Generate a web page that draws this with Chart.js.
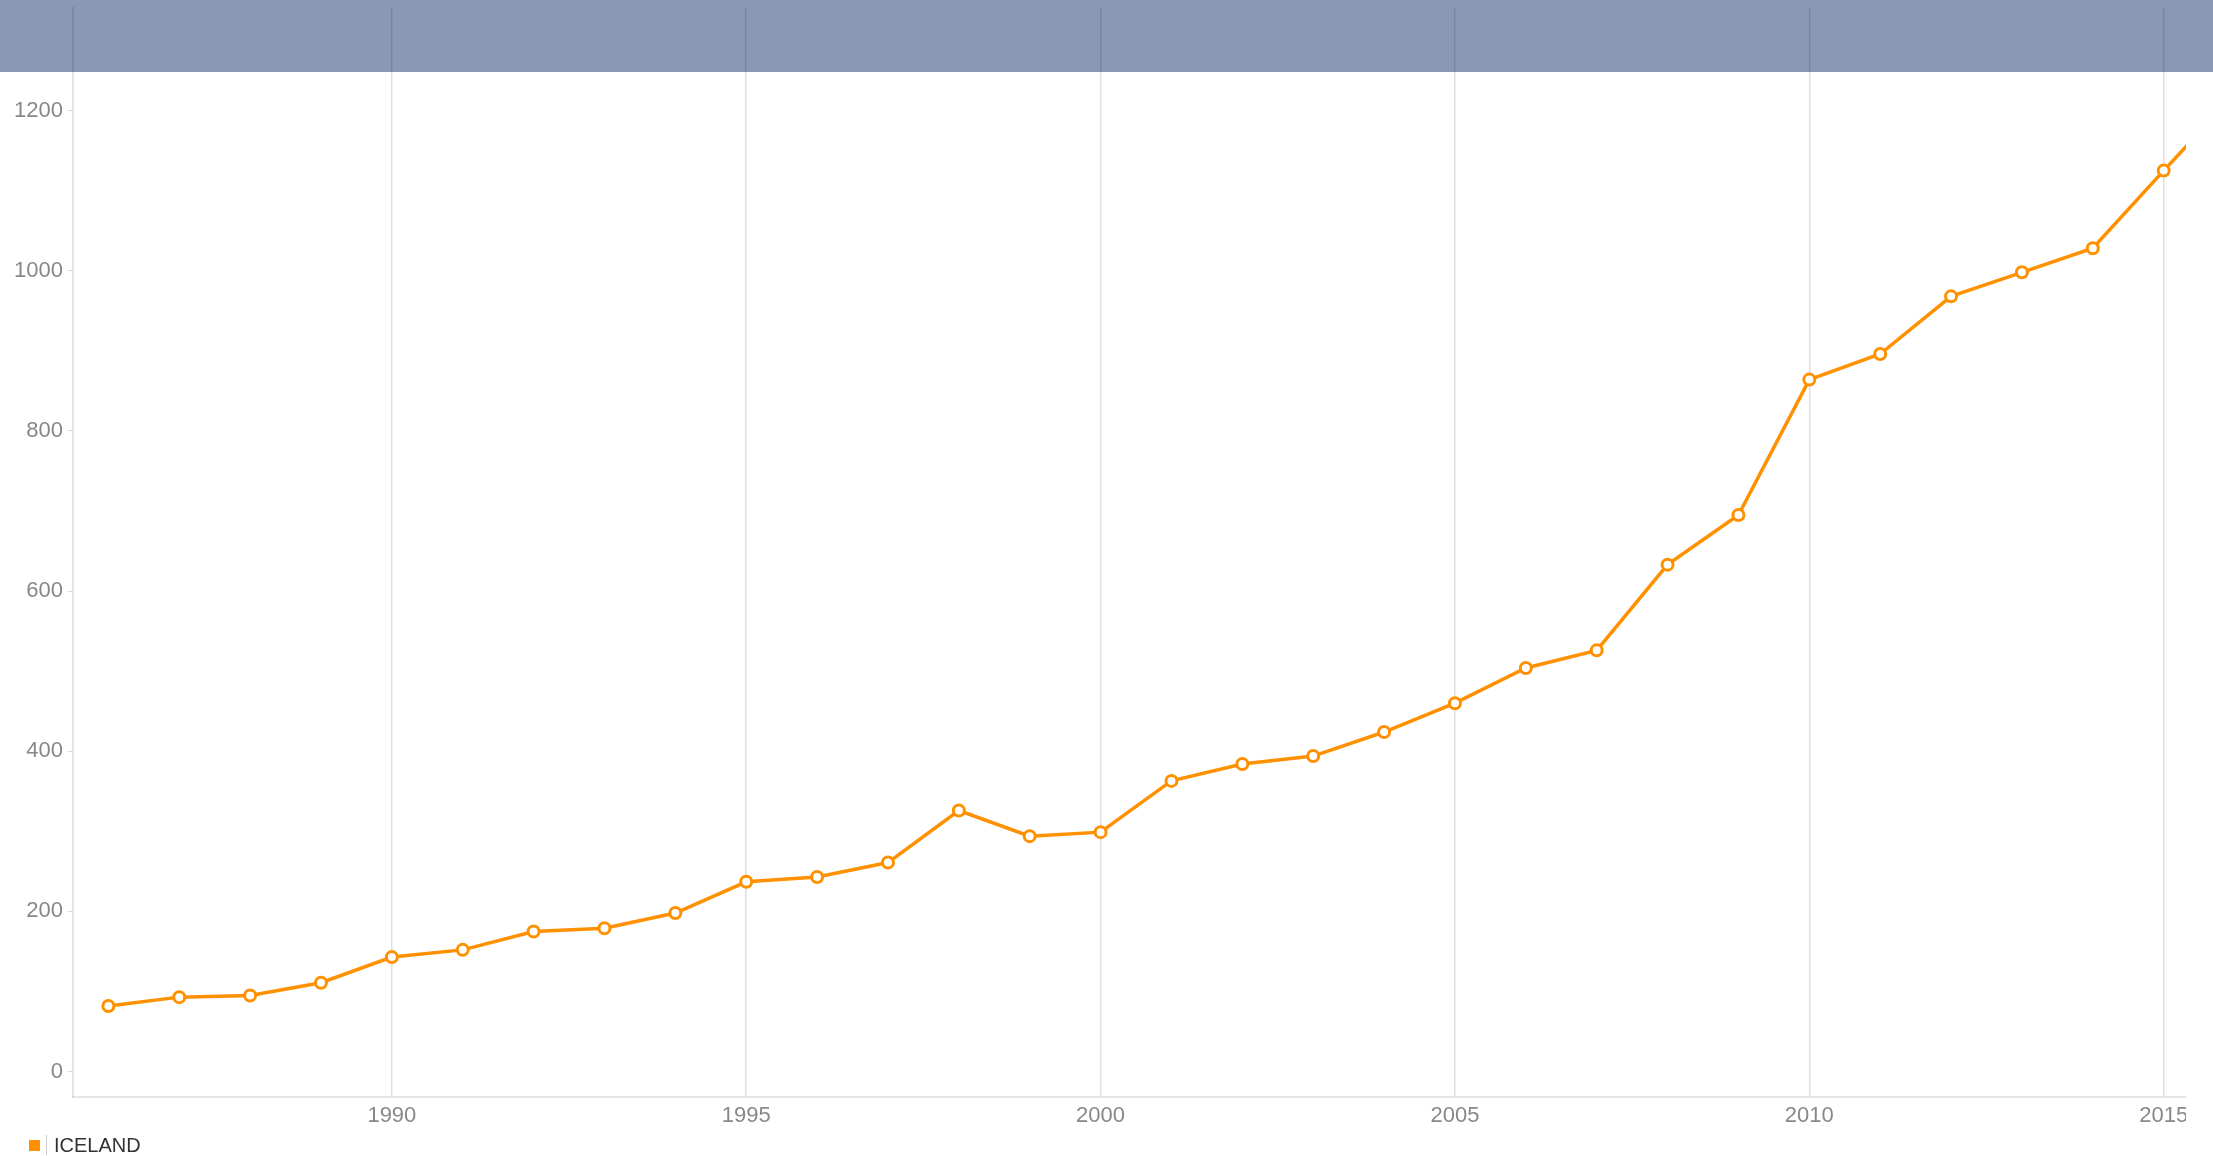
<!DOCTYPE html>
<html>
<head>
<meta charset="utf-8">
<script src="https://cdn.jsdelivr.net/npm/chart.js@4/dist/chart.umd.min.js"></script>
<style>
  html, body { margin: 0; padding: 0; background: #ffffff; width: 2213px; height: 1156px; overflow: hidden; }
  body { position: relative; }
  #banner { position: absolute; left: 0; top: 0; width: 2213px; height: 72px; background: #8a98b5; }
  #wrap { position: absolute; left: 0; top: 0; width: 2186px; height: 1156px; }
  #legend { position: absolute; left: 29px; top: 1134px; height: 22px; display: flex; align-items: center;
            font: 20px "Liberation Sans", Arial, sans-serif; color: #333333; }
  #legend .box { width: 11px; height: 11px; margin-right: 6px; }
  #legend .sep { width: 1px; height: 20px; background: #cccccc; margin-right: 7px; }
</style>
</head>
<body>
<div id="banner"></div>
<div id="wrap"><canvas id="c" width="2186" height="1156"></canvas></div>
<div id="legend"></div>
<script>
// ---- data ----
const seriesName = "ICELAND";
const years = [1986, 1987, 1988, 1989, 1990, 1991, 1992, 1993, 1994, 1995,
               1996, 1997, 1998, 1999, 2000, 2001, 2002, 2003, 2004, 2005,
               2006, 2007, 2008, 2009, 2010, 2011, 2012, 2013, 2014, 2015, 2016];
const values = [82, 93, 95, 111, 143, 152, 175, 179, 198, 237,
                243, 261, 326, 294, 299, 363, 384, 394, 424, 460,
                504, 526, 633, 695, 864, 896, 968, 998, 1028, 1125, 1220];
const xTicks = [1990, 1995, 2000, 2005, 2010, 2015];
const yTicks = [0, 200, 400, 600, 800, 1000, 1200];

const lineColor = "#ff9100";
Chart.defaults.font.family = '"Liberation Sans", Arial, sans-serif';

const points = years.map((y, i) => ({ x: y, y: values[i] }));

const chart = new Chart(document.getElementById("c"), {
  type: "line",
  data: {
    datasets: [{
      label: seriesName,
      data: points,
      borderColor: lineColor,
      backgroundColor: "#ffffff",
      borderWidth: 3.5,
      pointRadius: 5.5,
      pointBorderWidth: 3,
      pointBackgroundColor: "#ffffff",
      pointBorderColor: lineColor,
      tension: 0,
      fill: false
    }]
  },
  options: {
    responsive: false,
    animation: false,
    devicePixelRatio: 1,
    layout: { autoPadding: false, padding: { left: 9, right: 0, top: 8, bottom: 21 } },
    plugins: { legend: { display: false }, tooltip: { enabled: false } },
    scales: {
      x: {
        type: "linear",
        min: 1985.5,
        max: 2015.315,
        afterBuildTicks: (s) => { s.ticks = xTicks.map(v => ({ value: v })); },
        afterFit: (s) => { s.paddingRight = 0; s.paddingLeft = 0; },
        grid: { color: "rgba(0,0,0,0.12)", lineWidth: 1.5, drawTicks: false },
        border: { color: "rgba(0,0,0,0.1)", width: 2 },
        ticks: { color: "#888888", font: { size: 22 }, padding: 6, maxRotation: 0,
                 callback: (v) => String(v) }
      },
      y: {
        type: "linear",
        min: -31.2,
        max: 1328,
        afterBuildTicks: (s) => { s.ticks = yTicks.map(v => ({ value: v })); },
        afterFit: (s) => { s.paddingTop = 0; s.paddingBottom = 0; },
        grid: { drawOnChartArea: false, drawTicks: true, tickLength: 5, color: "#dddddd", lineWidth: 1 },
        border: { color: "rgba(0,0,0,0.1)", width: 2 },
        ticks: { color: "#888888", font: { size: 22 }, padding: 5,
                 callback: (v) => String(v) }
      }
    }
  }
});

// legend built from the dataset
const lg = document.getElementById("legend");
chart.data.datasets.forEach(ds => {
  const b = document.createElement("span"); b.className = "box"; b.style.background = ds.borderColor;
  const s = document.createElement("span"); s.className = "sep";
  const t = document.createElement("span"); t.textContent = ds.label;
  lg.appendChild(b); lg.appendChild(s); lg.appendChild(t);
});
</script>
</body>
</html>
